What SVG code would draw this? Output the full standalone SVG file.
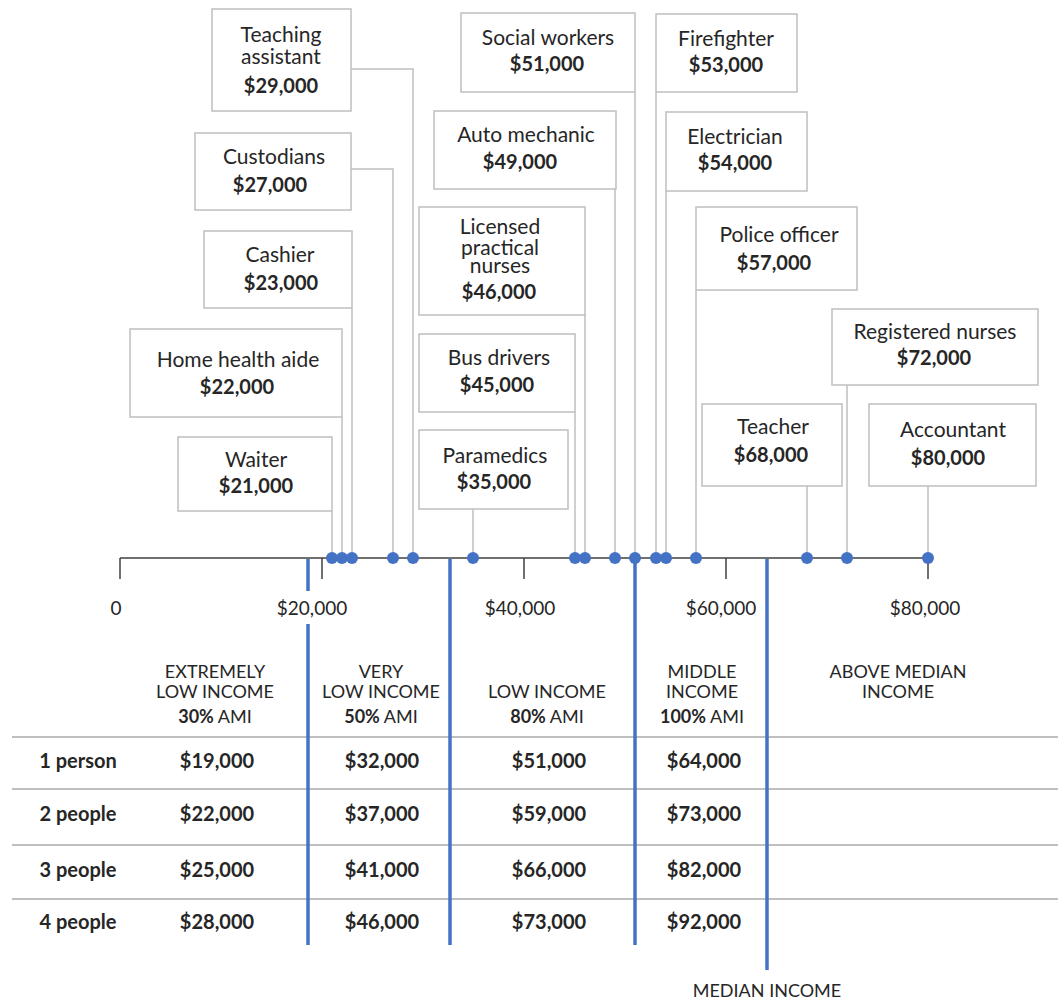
<svg xmlns="http://www.w3.org/2000/svg" width="1058" height="1002" viewBox="0 0 1058 1002">
<style>
text{font-family:Lato,"Open Sans","Liberation Sans",sans-serif;fill:#262626;text-anchor:middle}
.t{font-size:21px}
.b{font-size:20px;font-weight:bold}
.box{fill:#fff;stroke:#bfbfbf;stroke-width:1.5}
.con{fill:none;stroke:#bfbfbf;stroke-width:1.5}
.ax{stroke:#404040;stroke-width:1.5;fill:none}
.blue{stroke:#4472c4;stroke-width:3.5;fill:none}
.grid{stroke:#bfbfbf;stroke-width:2}
.dot{fill:#4472c4}
.lab{font-size:19px}
.cat{font-size:18px}
.row{font-size:20px;font-weight:bold}
</style>
<rect width="1058" height="1002" fill="#fff"/>
<g id="connectors">
<polyline class="con" points="351,69 413,69 413,558"/>
<polyline class="con" points="351,169 393,169 393,558"/>
<line class="con" x1="352" y1="308" x2="352" y2="558"/>
<line class="con" x1="342" y1="417" x2="342" y2="558"/>
<line class="con" x1="332" y1="511" x2="332" y2="558"/>
<line class="con" x1="473" y1="509" x2="473" y2="558"/>
<line class="con" x1="575" y1="412" x2="575" y2="558"/>
<line class="con" x1="585" y1="315" x2="585" y2="558"/>
<line class="con" x1="615" y1="189" x2="615" y2="558"/>
<line class="con" x1="635" y1="92" x2="635" y2="558"/>
<line class="con" x1="656" y1="92" x2="656" y2="558"/>
<line class="con" x1="666" y1="191" x2="666" y2="558"/>
<line class="con" x1="696" y1="290" x2="696" y2="558"/>
<line class="con" x1="807" y1="486" x2="807" y2="558"/>
<line class="con" x1="847" y1="385" x2="847" y2="558"/>
<line class="con" x1="928" y1="486" x2="928" y2="558"/>
</g>
<g id="table">
<line class="grid" x1="12" y1="737" x2="1058" y2="737"/>
<line class="grid" x1="12" y1="789" x2="1058" y2="789"/>
<line class="grid" x1="12" y1="845" x2="1058" y2="845"/>
<line class="grid" x1="12" y1="899" x2="1058" y2="899"/>
<text class="row" x="78" y="768">1 person</text>
<text class="row" x="78" y="821">2 people</text>
<text class="row" x="78" y="877">3 people</text>
<text class="row" x="78" y="929">4 people</text>
<text class="row" x="217" y="768">$19,000</text>
<text class="row" x="217" y="821">$22,000</text>
<text class="row" x="217" y="877">$25,000</text>
<text class="row" x="217" y="929">$28,000</text>
<text class="row" x="382" y="768">$32,000</text>
<text class="row" x="382" y="821">$37,000</text>
<text class="row" x="382" y="877">$41,000</text>
<text class="row" x="382" y="929">$46,000</text>
<text class="row" x="549" y="768">$51,000</text>
<text class="row" x="549" y="821">$59,000</text>
<text class="row" x="549" y="877">$66,000</text>
<text class="row" x="549" y="929">$73,000</text>
<text class="row" x="704" y="768">$64,000</text>
<text class="row" x="704" y="821">$73,000</text>
<text class="row" x="704" y="877">$82,000</text>
<text class="row" x="704" y="929">$92,000</text>
</g>
<g id="axis">
<line class="ax" x1="120" y1="558" x2="928" y2="558"/>
<line class="ax" x1="120" y1="558" x2="120" y2="579"/>
<line class="ax" x1="322" y1="558" x2="322" y2="579"/>
<line class="ax" x1="524" y1="558" x2="524" y2="579"/>
<line class="ax" x1="726" y1="558" x2="726" y2="579"/>
<line class="ax" x1="928" y1="558" x2="928" y2="579"/>
<text class="lab" x="116" y="615">0</text>
<text class="lab" x="312" y="615">$20,000</text>
<text class="lab" x="520" y="615">$40,000</text>
<text class="lab" x="721" y="615">$60,000</text>
<text class="lab" x="925" y="615">$80,000</text>
</g>
<g id="ami-lines">
<line class="blue" x1="308" y1="559" x2="308" y2="591"/>
<line class="blue" x1="308" y1="624" x2="308" y2="945"/>
<line class="blue" x1="450" y1="559" x2="450" y2="945"/>
<line class="blue" x1="635" y1="559" x2="635" y2="945"/>
<line class="blue" x1="767" y1="559" x2="767" y2="970"/>
<text class="cat" x="767" y="997">MEDIAN INCOME</text>
</g>
<g id="categories">
<text class="cat" x="215" y="678">EXTREMELY</text>
<text class="cat" x="215" y="698">LOW INCOME</text>
<text class="cat" x="215" y="723"><tspan font-weight="bold">30%</tspan> AMI</text>
<text class="cat" x="381" y="678">VERY</text>
<text class="cat" x="381" y="698">LOW INCOME</text>
<text class="cat" x="381" y="723"><tspan font-weight="bold">50%</tspan> AMI</text>
<text class="cat" x="547" y="698">LOW INCOME</text>
<text class="cat" x="547" y="723"><tspan font-weight="bold">80%</tspan> AMI</text>
<text class="cat" x="702" y="678">MIDDLE</text>
<text class="cat" x="702" y="698">INCOME</text>
<text class="cat" x="702" y="723"><tspan font-weight="bold">100%</tspan> AMI</text>
<text class="cat" x="898" y="678">ABOVE MEDIAN</text>
<text class="cat" x="898" y="698">INCOME</text>
</g>
<g id="dots">
<circle class="dot" cx="332" cy="558" r="6"/>
<circle class="dot" cx="342" cy="558" r="6"/>
<circle class="dot" cx="352" cy="558" r="6"/>
<circle class="dot" cx="393" cy="558" r="6"/>
<circle class="dot" cx="413" cy="558" r="6"/>
<circle class="dot" cx="473" cy="558" r="6"/>
<circle class="dot" cx="575" cy="558" r="6"/>
<circle class="dot" cx="585" cy="558" r="6"/>
<circle class="dot" cx="615" cy="558" r="6"/>
<circle class="dot" cx="635" cy="558" r="6"/>
<circle class="dot" cx="656" cy="558" r="6"/>
<circle class="dot" cx="666" cy="558" r="6"/>
<circle class="dot" cx="696" cy="558" r="6"/>
<circle class="dot" cx="807" cy="558" r="6"/>
<circle class="dot" cx="847" cy="558" r="6"/>
<circle class="dot" cx="928" cy="558" r="6"/>
</g>
<g id="teaching-assistant">
<rect class="box" x="212" y="9" width="139" height="102"/>
<text class="t" x="281" y="42">Teaching<tspan x="281" y="64">assistant</tspan></text>
<text class="b" x="281" y="93">$29,000</text>
</g>
<g id="custodians">
<rect class="box" x="195" y="133" width="156" height="77"/>
<text class="t" x="274" y="164">Custodians</text>
<text class="b" x="270" y="192">$27,000</text>
</g>
<g id="cashier">
<rect class="box" x="204" y="231" width="148" height="77"/>
<text class="t" x="280" y="262">Cashier</text>
<text class="b" x="281" y="290">$23,000</text>
</g>
<g id="home-health-aide">
<rect class="box" x="130" y="329" width="212" height="88"/>
<text class="t" x="238" y="367">Home health aide</text>
<text class="b" x="237" y="394">$22,000</text>
</g>
<g id="waiter">
<rect class="box" x="178" y="437" width="154" height="74"/>
<text class="t" x="256" y="467">Waiter</text>
<text class="b" x="256" y="493">$21,000</text>
</g>
<g id="paramedics">
<rect class="box" x="419" y="430" width="149" height="79"/>
<text class="t" x="495" y="463">Paramedics</text>
<text class="b" x="494" y="489">$35,000</text>
</g>
<g id="bus-drivers">
<rect class="box" x="419" y="334" width="156" height="78"/>
<text class="t" x="499" y="365">Bus drivers</text>
<text class="b" x="497" y="392">$45,000</text>
</g>
<g id="licensed-practical-nurses">
<rect class="box" x="419" y="207" width="166" height="108"/>
<text class="t" x="500" y="234">Licensed<tspan x="500" y="255">practical</tspan><tspan x="500" y="273">nurses</tspan></text>
<text class="b" x="499" y="299">$46,000</text>
</g>
<g id="auto-mechanic">
<rect class="box" x="434" y="111" width="182" height="78"/>
<text class="t" x="526" y="142">Auto mechanic</text>
<text class="b" x="520" y="169">$49,000</text>
</g>
<g id="social-workers">
<rect class="box" x="461" y="13" width="174" height="79"/>
<text class="t" x="548" y="45">Social workers</text>
<text class="b" x="547" y="71">$51,000</text>
</g>
<g id="firefighter">
<rect class="box" x="656" y="14" width="141" height="78"/>
<text class="t" x="726" y="46">Firefighter</text>
<text class="b" x="726" y="72">$53,000</text>
</g>
<g id="electrician">
<rect class="box" x="666" y="112" width="141" height="79"/>
<text class="t" x="735" y="144">Electrician</text>
<text class="b" x="735" y="170">$54,000</text>
</g>
<g id="police-officer">
<rect class="box" x="696" y="207" width="161" height="83"/>
<text class="t" x="779" y="242">Police officer</text>
<text class="b" x="774" y="270">$57,000</text>
</g>
<g id="registered-nurses">
<rect class="box" x="832" y="309" width="206" height="76"/>
<text class="t" x="935" y="339">Registered nurses</text>
<text class="b" x="934" y="365">$72,000</text>
</g>
<g id="teacher">
<rect class="box" x="702" y="404" width="140" height="82"/>
<text class="t" x="773" y="434">Teacher</text>
<text class="b" x="771" y="462">$68,000</text>
</g>
<g id="accountant">
<rect class="box" x="869" y="404" width="167" height="82"/>
<text class="t" x="953" y="437">Accountant</text>
<text class="b" x="948" y="465">$80,000</text>
</g>
</svg>
